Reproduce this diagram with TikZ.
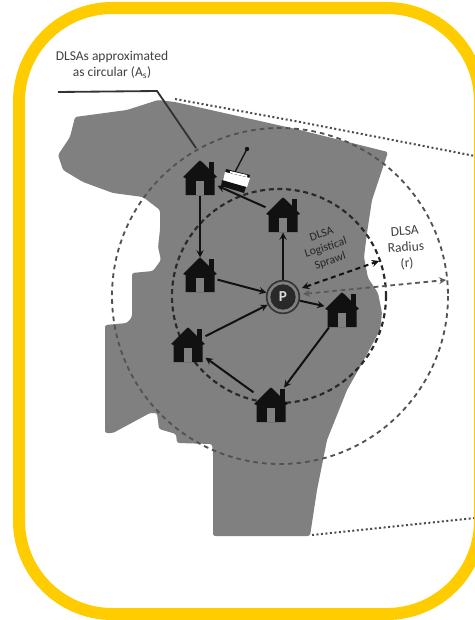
\documentclass[tikz,border=0pt]{standalone}
\usepackage{fontspec}
\setmainfont{Carlito}
\usetikzlibrary{positioning}
\definecolor{bandyellow}{HTML}{FFCC00}
\definecolor{landgray}{HTML}{808080}
\definecolor{housedark}{HTML}{111111}
\tikzset{
  homeslot/.style={inner sep=0pt,outer sep=0pt,minimum size=10.5mm},
  parkring/.style={circle,draw=housedark!85,line width=0.5mm,fill=landgray,inner sep=0pt,minimum size=9.8mm},
  parkdisc/.style={circle,fill=housedark!90,text=white!85!black,font=\bfseries\fontsize{13}{13}\selectfont,inner sep=0pt,minimum size=7.6mm},
  flow/.style={-stealth,housedark,line width=0.6mm},
  sprawlline/.style={stealth-stealth,housedark,line width=0.6mm,dash pattern=on 1.5mm off 1.1mm},
  radiusline/.style={stealth-stealth,black!65,line width=0.55mm,dash pattern=on 1.4mm off 1.1mm},
  dlsahouse/.pic={
    \fill[housedark] (9,-16) rectangle (14,-2);
    \fill[housedark] (-17,-1) -- (-2,-16) -- (0,-17.5) -- (2,-16) -- (17,-1) -- (14.5,0) -- (14.5,17) -- (-14.5,17) -- (-14.5,0) -- cycle;
    \fill[landgray] (-4,3) rectangle (4,17);
  }
}
\begin{document}
\begin{tikzpicture}[x=0.3mm,y=-0.3mm]
\useasboundingbox (0,0) rectangle (475,620);
\clip (0,0) rectangle (475,620);
\fill[white] (0,0) rectangle (475,620);
% dotted edges of the zoom
\draw[black!70,line width=0.6mm,dash pattern=on 0.6mm off 0.75mm] (175,99) -- (300,122) -- (475,156);
\draw[black!70,line width=0.6mm,dash pattern=on 0.6mm off 0.75mm] (312,535) -- (475,518);
% land area
\fill[landgray,rounded corners=2pt] (158,100) -- (127,110) -- (75,117) -- (70,137) -- (58,155) -- (63,170) -- (83,182) -- (113,193) -- (143,197) -- (160,210) -- (160,230) -- (158,247) -- (161,260) -- (153,271) -- (132,273) -- (132,317) -- (127,323) -- (105,325) -- (105,433) -- (113,433) -- (150,413) -- (157,413) -- (159,429) -- (176,434) -- (177,443) -- (212,444) -- (213,453) -- (213,536) -- (310,536) -- (317,490) -- (327,440) -- (335,420) -- (347,390) -- (360,367) -- (380,330) -- (382,313) -- (378,293) -- (368,278) -- (364,257) -- (367,233) -- (372,200) -- (388,152) -- (300,130) -- (175,102) -- cycle;
% circles
\draw[black!68,line width=0.55mm,dash pattern=on 1.4mm off 1.2mm] (280,296) circle [radius=168];
\draw[housedark!90,line width=0.65mm,dash pattern=on 1.5mm off 1.1mm] (279,296) circle [radius=107];
% leader
\coordinate (leadA) at (58,92);
\coordinate (leadB) at (157,91);
\coordinate (leadC) at (196,148);
\draw[black!80,line width=0.55mm] (leadA) -- (leadB) -- (leadC);
\node[text=black!75,font=\fontsize{11.5}{13.6}\selectfont,align=center] (circlabel) at (112,65) {DLSAs approximated\\as circular (A$_{\mathrm{s}}$)};
% homes
\node[homeslot] (homeA) at (200,178) {};
\node[homeslot] (homeB) at (283,215) {};
\node[homeslot] (homeC) at (200,275) {};
\node[homeslot] (homeD) at (188,345) {};
\node[homeslot] (homeE) at (271,405) {};
\node[homeslot] (homeF) at (342,310) {};
\pic at (homeA) {dlsahouse};
\pic at (homeB) {dlsahouse};
\pic at (homeC) {dlsahouse};
\pic at (homeD) {dlsahouse};
\pic at (homeE) {dlsahouse};
\pic at (homeF) {dlsahouse};
\node[parkring] (park) at (283,297) {};
\node[parkdisc] (parkP) at (park) {P};
% truck
\coordinate (mastA) at (235,172);
\coordinate (mastB) at (247,149);
\draw[housedark,line width=0.4mm] (mastA) -- (mastB);
\fill[housedark] (mastB) circle [radius=2.2];
\fill[housedark] (226,169) -- (250,175) -- (249,179) -- (225,174) -- cycle;
\fill[white] (225,172) -- (250,178) -- (247,187) -- (223,181) -- cycle;
\fill[housedark] (222,180) -- (246,187) -- (244,193) -- (221,186) -- cycle;
\fill[white] (230,171) -- (247,175) -- (247,177) -- (230,173) -- cycle;
% flows
\draw[flow] (homeB) -- (homeA);
\draw[flow] (homeA) -- (homeC);
\draw[flow] (homeC) -- (park);
\draw[flow] (park) -- (homeB);
\draw[flow] (park) -- (homeF);
\draw[flow] (homeF) -- (homeE);
\draw[flow] (homeE) -- (homeD);
\draw[flow] (homeD) -- (park);
% sprawl and radius
\coordinate (sprawlEnd) at (379,261);
\coordinate (radiusEnd) at (446,280);
\draw[sprawlline] (park) ++(19,-9) coordinate (sprawlStart) (sprawlStart) -- (sprawlEnd);
\draw[radiusline] (park) ++(20,-3) coordinate (radiusStart) (radiusStart) -- (radiusEnd);
\node[text=black!85,font=\fontsize{10}{12}\selectfont,align=center,rotate=18] (sprawllabel) at (326,248) {DLSA\\Logistical\\Sprawl};
\node[text=black!75,font=\fontsize{11.5}{13.8}\selectfont,align=center,rotate=4] (radiuslabel) at (406,248) {DLSA\\Radius\\(r)};
% frame
\draw[bandyellow,line width=3.6mm,rounded corners=28mm] (19,8) rectangle (480,614);
\end{tikzpicture}
\end{document}
